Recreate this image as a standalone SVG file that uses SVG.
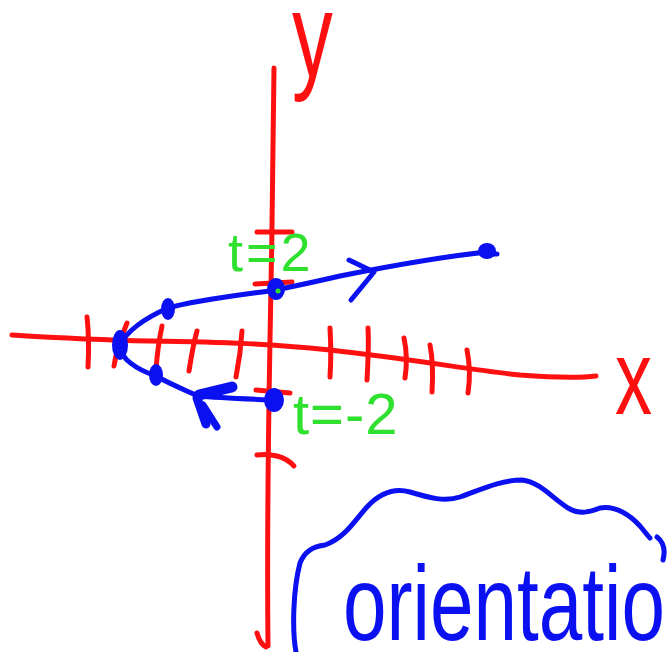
<svg xmlns="http://www.w3.org/2000/svg" width="667" height="652" viewBox="0 0 667 652">
<style>
.r{fill:none;stroke:#ff1010;stroke-width:5;stroke-linecap:round;stroke-linejoin:round}
.b{fill:none;stroke:#0a10f0;stroke-width:5;stroke-linecap:round;stroke-linejoin:round}
.bf{fill:#0a10f0}
.g{fill:#2fe02f;font-family:"Liberation Sans",Arial,sans-serif}
.rt{fill:#ff1010;font-family:"Liberation Sans",Arial,sans-serif}
.bt{fill:#0a10f0;font-family:"Liberation Sans",Arial,sans-serif}
</style>
<rect width="667" height="652" fill="#ffffff"/>
<g id="axes">
<path class="r" d="M274,68 C273,150 272,250 270,340 C268,450 267,550 268,646"/>
<path class="r" d="M257,633 Q260,644 266,647"/>
<path class="r" d="M12,335 C60,338 100,340 150,341 C230,342 270,344 330,350 C420,360 470,370 520,375 C560,378 580,378 596,376"/>
<path class="r" d="M87,317 C89,335 89,350 88,367"/>
<path class="r" d="M127,323 C120,340 116,352 114,366"/>
<path class="r" d="M162,326 C159,340 157,355 156,370"/>
<path class="r" d="M197,331 C193,345 191,358 189,371"/>
<path class="r" d="M242,331 C241,348 239,362 236,377"/>
<path class="r" d="M330,328 C331,345 331,362 330,377"/>
<path class="r" d="M368,328 C369,345 368,362 367,380"/>
<path class="r" d="M404,338 C407,352 407,365 405,378"/>
<path class="r" d="M430,345 C433,360 433,376 432,392"/>
<path class="r" d="M467,350 C470,365 470,380 468,393"/>
<path class="r" d="M257,232 L292,232"/>
<path class="r" d="M255,284 L292,282"/>
<path class="r" d="M256,390 L290,393"/>
<path class="r" d="M257,455 C270,453 285,456 294,466"/>
</g>
<g id="labels-axes">
<text class="rt" x="0" y="0" font-size="120" transform="translate(292,77) scale(0.68,1)">y</text>
<text class="rt" x="0" y="0" font-size="106" transform="translate(615,414) scale(0.7,1)">x</text>
</g>
<g id="connectors">
<path class="b" d="M487,252 C430,258 380,268 340,276 C310,283 290,287 276,290 C240,295 195,300 168,308 C145,318 125,332 121,345 C118,358 138,370 156,376 C170,384 185,390 198,396 C220,398 250,399 272,400"/>
<path class="b" d="M349,260 L374,272 L351,300"/>
<path class="b" style="stroke-width:11" d="M199,395 L232,387"/>
<path class="b" style="stroke-width:9" d="M197,398 L206,424"/>
<path class="b" style="stroke-width:7" d="M203,405 L217,427"/>
</g>
<g id="points">
<ellipse class="bf" cx="487" cy="251" rx="9" ry="8"/>
<path class="b" d="M490,254 L497,254"/>
<ellipse class="bf" cx="276" cy="289" rx="9" ry="11"/>
<circle cx="278" cy="291" r="2.5" fill="#2fe02f"/>
<ellipse class="bf" cx="168" cy="309" rx="7" ry="11"/>
<ellipse class="bf" cx="120" cy="345" rx="8" ry="15"/>
<ellipse class="bf" cx="156" cy="375" rx="7" ry="11"/>
<ellipse class="bf" cx="274" cy="400" rx="10" ry="12"/>
</g>
<g id="labels-t">
<text class="g" x="228" y="271" font-size="54" letter-spacing="3">t=2</text>
<text class="g" x="293" y="434" font-size="58" letter-spacing="1">t=-2</text>
</g>
<g id="note">
<path class="b" d="M296,652 C292,630 293,590 300,563 C305,550 315,546 325,545 C345,538 355,520 367,507 C380,493 395,488 410,492 C430,498 445,502 460,497 C480,490 500,480 522,480 C540,482 552,498 568,508 C580,515 590,512 600,508 C615,505 630,515 640,526 C645,532 648,536 650,538"/>
<path class="b" d="M657,537 Q667,545 663,560"/>
<text class="bt" x="343" y="640" font-size="106" textLength="322" lengthAdjust="spacingAndGlyphs">orientatio</text>
</g>
</svg>
